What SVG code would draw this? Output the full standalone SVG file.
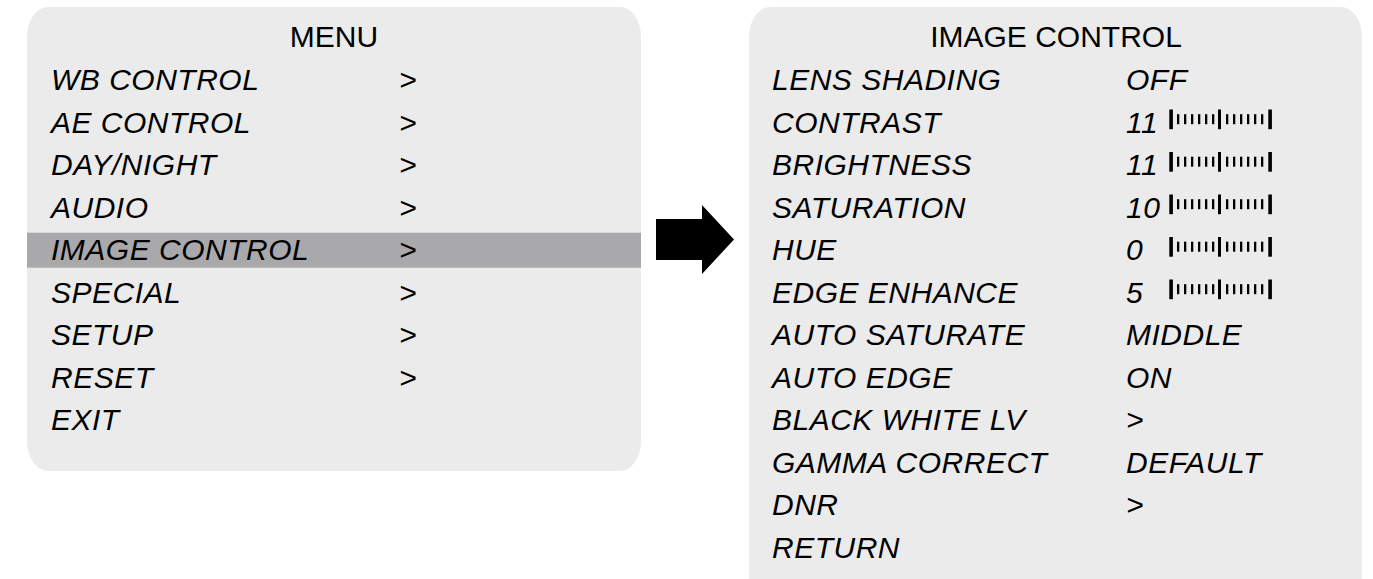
<svg xmlns="http://www.w3.org/2000/svg" xmlns:xlink="http://www.w3.org/1999/xlink" width="1373" height="579" viewBox="0 0 1373 579">
<style>
.panel{fill:#ebebeb}
.t{font-family:"Liberation Sans",Arial,Helvetica,sans-serif;font-size:30px;fill:#000;letter-spacing:0.5px}
.i{font-style:italic}
.ttl{text-anchor:middle;letter-spacing:0}
.hl{fill:#a9a9ab}
.bar{fill:#000}
</style>
<defs>
<g id="slider">
<rect class="bar" x="1169.3" y="-23" width="3.6" height="19.7"/>
<rect class="bar" x="1218" y="-23" width="3" height="19.7"/>
<rect class="bar" x="1268.3" y="-23" width="3.6" height="19.7"/>
<rect class="bar" x="1177" y="-18.3" width="2.3" height="10"/>
<rect class="bar" x="1184" y="-18.3" width="2.3" height="10"/>
<rect class="bar" x="1191" y="-18.3" width="2.3" height="10"/>
<rect class="bar" x="1198" y="-18.3" width="2.3" height="10"/>
<rect class="bar" x="1205" y="-18.3" width="2.3" height="10"/>
<rect class="bar" x="1212" y="-18.3" width="2.3" height="10"/>
<rect class="bar" x="1226" y="-18.3" width="2.3" height="10"/>
<rect class="bar" x="1233" y="-18.3" width="2.3" height="10"/>
<rect class="bar" x="1240" y="-18.3" width="2.3" height="10"/>
<rect class="bar" x="1247" y="-18.3" width="2.3" height="10"/>
<rect class="bar" x="1254" y="-18.3" width="2.3" height="10"/>
<rect class="bar" x="1261" y="-18.3" width="2.3" height="10"/>
</g>
</defs>
<rect width="1373" height="579" fill="#ffffff"/>

<g id="menu">
<rect class="panel" x="27" y="7" width="614" height="464" rx="21" ry="30"/>
<rect class="hl" x="27" y="232.7" width="614" height="35"/>
<text class="t ttl" x="334" y="47">MENU</text>
<text class="t i" x="51" y="90">WB CONTROL</text><text class="t i" x="399" y="90">&gt;</text>
<text class="t i" x="51" y="132.5">AE CONTROL</text><text class="t i" x="399" y="132.5">&gt;</text>
<text class="t i" x="51" y="175">DAY/NIGHT</text><text class="t i" x="399" y="175">&gt;</text>
<text class="t i" x="51" y="217.5">AUDIO</text><text class="t i" x="399" y="217.5">&gt;</text>
<text class="t i" x="51" y="260">IMAGE CONTROL</text><text class="t i" x="399" y="260">&gt;</text>
<text class="t i" x="51" y="302.5">SPECIAL</text><text class="t i" x="399" y="302.5">&gt;</text>
<text class="t i" x="51" y="345">SETUP</text><text class="t i" x="399" y="345">&gt;</text>
<text class="t i" x="51" y="387.5">RESET</text><text class="t i" x="399" y="387.5">&gt;</text>
<text class="t i" x="51" y="430">EXIT</text>
</g>

<g id="connectors">
<polygon fill="#000" points="656,219 702,219 702,205 734,239.5 702,274 702,260 656,260"/>
</g>

<g id="image-control">
<rect class="panel" x="749" y="7" width="613" height="620" rx="21" ry="30"/>
<text class="t ttl" x="1056" y="47">IMAGE CONTROL</text>
<text class="t i" x="772" y="90">LENS SHADING</text><text class="t i" x="1126" y="90">OFF</text>
<text class="t i" x="772" y="132.5">CONTRAST</text><text class="t i" x="1126" y="132.5">11</text>
<use xlink:href="#slider" href="#slider" transform="translate(0,132.5)"/>
<text class="t i" x="772" y="175">BRIGHTNESS</text><text class="t i" x="1126" y="175">11</text>
<use xlink:href="#slider" href="#slider" transform="translate(0,175)"/>
<text class="t i" x="772" y="217.5">SATURATION</text><text class="t i" x="1126" y="217.5">10</text>
<use xlink:href="#slider" href="#slider" transform="translate(0,217.5)"/>
<text class="t i" x="772" y="260">HUE</text><text class="t i" x="1126" y="260">0</text>
<use xlink:href="#slider" href="#slider" transform="translate(0,260)"/>
<text class="t i" x="772" y="302.5">EDGE ENHANCE</text><text class="t i" x="1126" y="302.5">5</text>
<use xlink:href="#slider" href="#slider" transform="translate(0,302.5)"/>
<text class="t i" x="772" y="345">AUTO SATURATE</text><text class="t i" x="1126" y="345">MIDDLE</text>
<text class="t i" x="772" y="387.5">AUTO EDGE</text><text class="t i" x="1126" y="387.5">ON</text>
<text class="t i" x="772" y="430">BLACK WHITE LV</text><text class="t i" x="1126" y="430">&gt;</text>
<text class="t i" x="772" y="472.5">GAMMA CORRECT</text><text class="t i" x="1126" y="472.5">DEFAULT</text>
<text class="t i" x="772" y="515">DNR</text><text class="t i" x="1126" y="515">&gt;</text>
<text class="t i" x="772" y="557.5">RETURN</text>
</g>
</svg>
